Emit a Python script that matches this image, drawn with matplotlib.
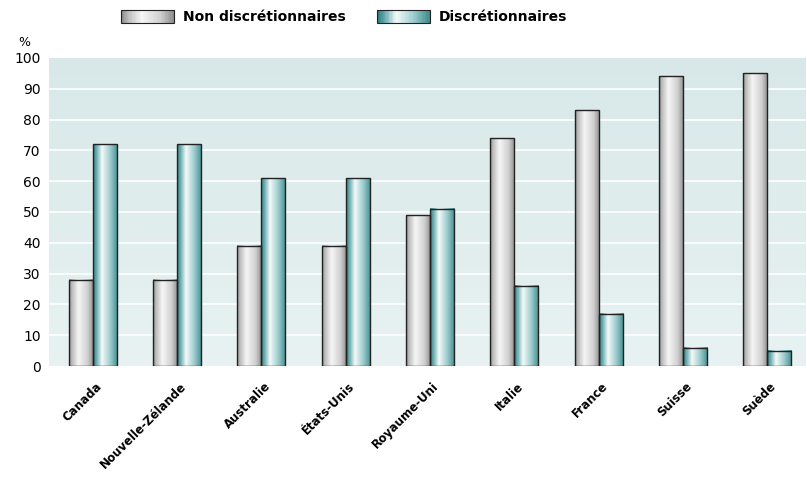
import numpy as np
import matplotlib
matplotlib.use("Agg")
import matplotlib.pyplot as plt
from matplotlib.colors import LinearSegmentedColormap
from matplotlib.patches import Rectangle
from matplotlib.legend_handler import HandlerBase
from matplotlib.transforms import ScaledTranslation

# data
countries = ["Canada", "Nouvelle-Zélande", "Australie", "États-Unis", "Royaume-Uni",
             "Italie", "France", "Suisse", "Suède"]
non_discretionnaires = [28, 28, 39, 39, 49, 74, 83, 94, 95]
discretionnaires = [72, 72, 61, 61, 51, 26, 17, 6, 5]
series_labels = ["Non discrétionnaires", "Discrétionnaires"]
y_ticks = [0, 10, 20, 30, 40, 50, 60, 70, 80, 90, 100]

plt.rcParams['font.family'] = ['DejaVu Sans']

grey_cmap = LinearSegmentedColormap.from_list(
    "grey_cyl", [(0.0, "#8e8e8e"), (0.12, "#bdbdbd"), (0.38, "#f6f6f6"),
                 (0.75, "#cfcfcf"), (1.0, "#8c8c8c")])
teal_cmap = LinearSegmentedColormap.from_list(
    "teal_cyl", [(0.0, "#2f7f83"), (0.15, "#6fb0b3"), (0.36, "#f4fafa"),
                 (0.7, "#9ccacc"), (1.0, "#3f8d90")])
bg_cmap = LinearSegmentedColormap.from_list("bg", ["#e8f2f2", "#d8e8e8"])

fig = plt.figure(figsize=(8.07, 4.78), dpi=100)
ax = fig.add_axes([0.0607, 0.2343, 0.938, 0.6444])

# background gradient
grad_v = np.linspace(0, 1, 256)[:, None]
ax.imshow(grad_v, extent=[0, 1, 0, 1], transform=ax.transAxes, cmap=bg_cmap,
          origin="lower", aspect="auto", zorder=0)

x = np.arange(len(countries))
w = 0.285
grad_h = np.linspace(0, 1, 256)[None, :]


def shade(bars, cmap):
    for r in bars:
        x0, h, bw = r.get_x(), r.get_height(), r.get_width()
        ax.imshow(grad_h, extent=[x0, x0 + bw, 0, h], cmap=cmap,
                  aspect="auto", zorder=2, interpolation="bilinear")


b1 = ax.bar(x - w / 2, non_discretionnaires, w, facecolor="none",
            edgecolor="#222222", linewidth=1.0, zorder=3)
b2 = ax.bar(x + w / 2, discretionnaires, w, facecolor="none",
            edgecolor="#222222", linewidth=1.0, zorder=3)
shade(b1, grey_cmap)
shade(b2, teal_cmap)

for yv in y_ticks[1:-1]:
    ax.axhline(yv, color="white", linewidth=1.2, zorder=1)

ax.set_xlim(-0.52, len(countries) - 0.54)
ax.set_ylim(0, 100)
ax.set_yticks(y_ticks)
ax.set_yticklabels([str(v) for v in y_ticks], fontsize=10)
ax.set_xticks(x)
ax.set_xticklabels(countries, rotation=45, ha="right", va="center",
                   rotation_mode="anchor", fontsize=8.5, fontweight="bold")
ax.tick_params(length=0)
ax.tick_params(axis="x", pad=13)
ax.tick_params(axis="y", pad=6)
shift = ScaledTranslation(0.07, 0, fig.dpi_scale_trans)
for lbl in ax.get_xticklabels():
    lbl.set_transform(lbl.get_transform() + shift)
for s in ax.spines.values():
    s.set_visible(False)

ax.text(-0.033, 1.03, "%", transform=ax.transAxes, ha="center", va="bottom",
        fontsize=9)


class GradHandler(HandlerBase):
    def __init__(self, cmap):
        super().__init__()
        self.cmap = cmap

    def create_artists(self, legend, orig_handle, xdescent, ydescent, width,
                       height, fontsize, trans):
        n = 40
        arts = []
        for i in range(n):
            arts.append(Rectangle((-xdescent + width * i / n, -ydescent),
                                  width / n + 0.3, height,
                                  facecolor=self.cmap(i / (n - 1)),
                                  edgecolor="none", transform=trans))
        arts.append(Rectangle((-xdescent, -ydescent), width, height,
                              facecolor="none", edgecolor="#222222",
                              linewidth=0.8, transform=trans))
        return arts


h1 = Rectangle((0, 0), 1, 1)
h2 = Rectangle((0, 0), 1, 1)
fig.legend([h1, h2], series_labels, loc="upper left",
           bbox_to_anchor=(0.135, 1.005), ncol=2, frameon=False,
           prop={"size": 10, "weight": "bold"},
           handlelength=3.8, handleheight=1.1, columnspacing=2.3,
           handletextpad=0.6,
           handler_map={h1: GradHandler(grey_cmap), h2: GradHandler(teal_cmap)})

fig.savefig("out.png", dpi=100)
